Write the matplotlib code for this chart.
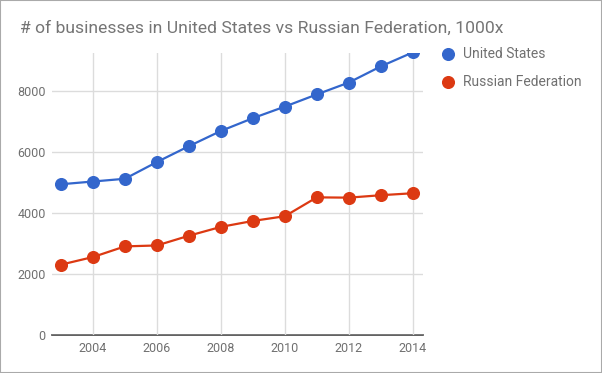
import matplotlib
matplotlib.use("Agg")
import matplotlib.pyplot as plt
from matplotlib.patches import Rectangle

plt.rcParams['font.family'] = ['Roboto', 'DejaVu Sans']

years = [2003, 2004, 2005, 2006, 2007, 2008, 2009, 2010, 2011, 2012, 2013, 2014]
us = [4950, 5040, 5130, 5680, 6200, 6700, 7120, 7500, 7900, 8290, 8820, 9280]
russia = [2310, 2560, 2910, 2940, 3260, 3550, 3745, 3900, 4520, 4510, 4590, 4655]
xticks = [2004, 2006, 2008, 2010, 2012, 2014]
yticks = [0, 2000, 4000, 6000, 8000]

W, H = 602, 373
fig = plt.figure(figsize=(W / 100, H / 100), dpi=100)
ax = fig.add_axes([52 / W, 1 - 335 / H, (423 - 52) / W, (335 - 53) / H])

blue = '#3366cc'
red = '#dc3912'
ax.plot(years, us, color=blue, lw=1.6, marker='o', ms=8.4, label='United States')
ax.plot(years, russia, color=red, lw=1.6, marker='o', ms=8.4, label='Russian Federation')

ax.set_xlim(2002.72, 2014.32)
ax.set_ylim(0, 9260)
ax.set_xticks(xticks)
ax.set_yticks(yticks)
ax.grid(True, color='#dcdcdc', lw=1)
ax.set_axisbelow(True)
for s in ['top', 'right', 'left']:
    ax.spines[s].set_visible(False)
ax.spines['bottom'].set_color('#444444')
ax.spines['bottom'].set_linewidth(1.2)
ax.spines['bottom'].set_zorder(0.5)
ax.tick_params(length=0, labelsize=9, colors='#707070', pad=5)
ax.tick_params(axis='y', pad=4.5)

fig.text(20 / W, 1 - 33 / H, '# of businesses in United States vs Russian Federation, 1000x',
         fontsize=12.6, color='#757575', va='baseline', ha='left')

leg = fig.legend(loc='upper left', bbox_to_anchor=(441 / W, 1 - 47.5 / H), frameon=False,
                 borderpad=0, borderaxespad=0, handlelength=1.0, handletextpad=0.58,
                 labelspacing=1.0, fontsize=10)
for h in leg.legend_handles:
    h.set_linestyle('none')
for t in leg.get_texts():
    t.set_color('#707070')

fig.patches.append(Rectangle((0, 0), 1, 1, transform=fig.transFigure, fill=False,
                             edgecolor='#aaaaaa', lw=1.5))

fig.savefig('out.png', dpi=100)
